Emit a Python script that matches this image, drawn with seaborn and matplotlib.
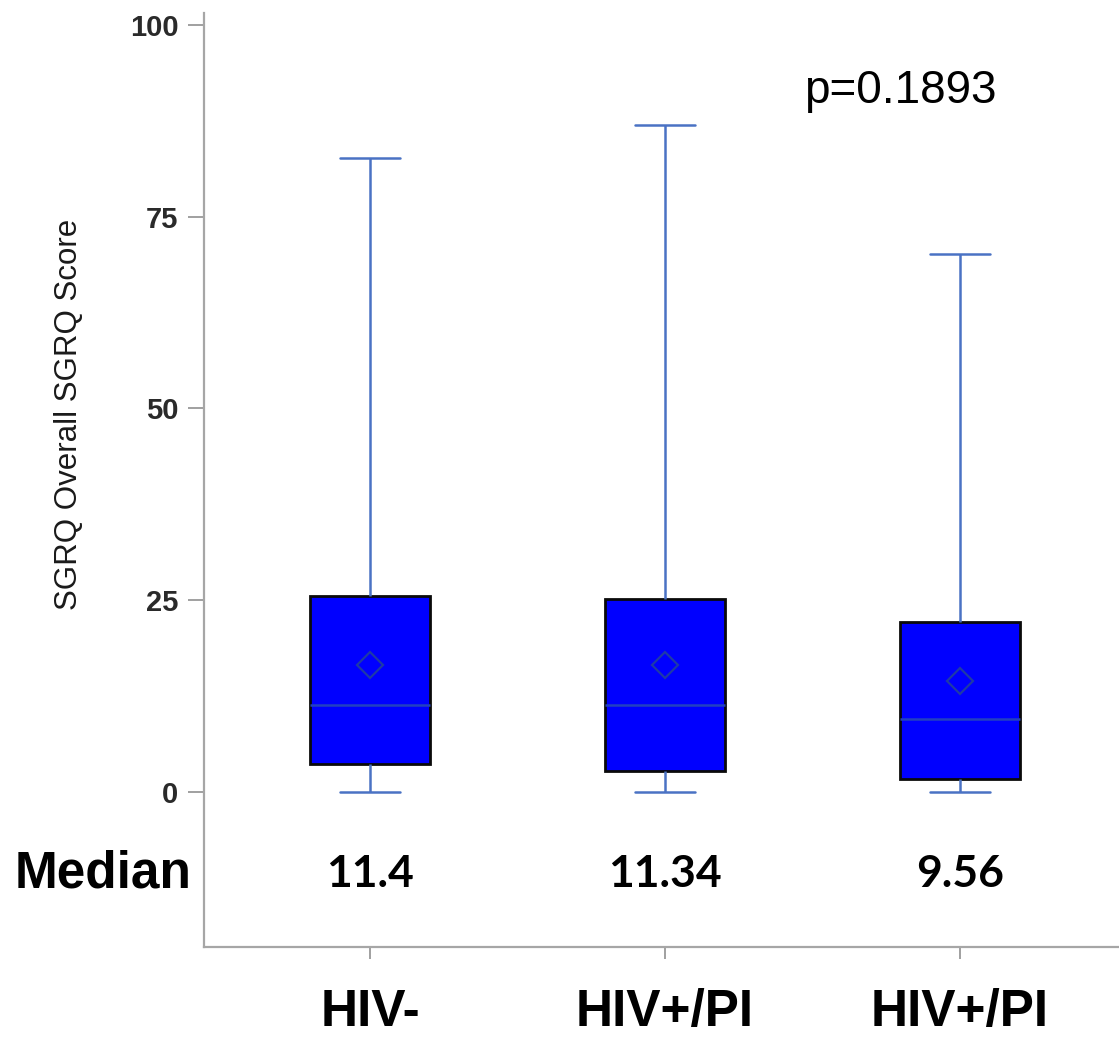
import numpy as np
import pandas as pd
import seaborn as sns
import matplotlib.pyplot as plt

# ---- data ----
group_ids = ["HIV-", "HIV+/PI (a)", "HIV+/PI (b)"]
group_labels = ["HIV-", "HIV+/PI", "HIV+/PI"]
mins = [0.0, 0.0, 0.0]
q1 = [3.6, 2.7, 1.7]
medians = [11.4, 11.34, 9.56]
q3 = [25.5, 25.2, 22.2]
maxs = [82.7, 87.0, 70.1]
means = [16.6, 16.6, 14.5]
median_text = ["11.4", "11.34", "9.56"]
p_text = "p=0.1893"
y_ticks = [0, 25, 50, 75, 100]

# five-number summaries as data (linear quantiles reproduce q1/median/q3 exactly)
rows = []
for g, a, b, c, d, e in zip(group_ids, mins, q1, medians, q3, maxs):
    for v in (a, b, c, d, e):
        rows.append((g, v))
df = pd.DataFrame(rows, columns=["group", "score"])
df_mean = pd.DataFrame({"group": group_ids, "mean": means})

sns.set_style("white")
plt.rcParams["font.family"] = ["Liberation Sans", "DejaVu Sans"]
plt.rcParams["text.color"] = "black"

fig = plt.figure(figsize=(11.19, 10.38), dpi=100)
ax = fig.add_axes([0.1823, 0.0881, 0.8177, 0.8994])

whisker_c = "#4A72C4"
sns.boxplot(data=df, x="group", y="score", order=group_ids, ax=ax,
            whis=np.inf, width=0.407, color="#0000FF", saturation=1,
            linecolor="black", linewidth=1.8, showfliers=False,
            boxprops=dict(facecolor="#0000FF", edgecolor="#0A0A0A", linewidth=2.0),
            whiskerprops=dict(color=whisker_c, linewidth=1.8),
            capprops=dict(color=whisker_c, linewidth=1.8),
            medianprops=dict(color="#2240C0", linewidth=1.8))

sns.pointplot(data=df_mean, x="group", y="mean", order=group_ids, ax=ax,
              linestyles="none", markers="D", errorbar=None, color="#1E3AA8",
              markersize=13.5, markerfacecolor="none", markeredgecolor="#1E3AA8",
              markeredgewidth=1.6)

ax.set_xlim(-0.563, 2.54)
ax.set_ylim(-20.14, 101.56)

for s in ("top", "right"):
    ax.spines[s].set_visible(False)
for s in ("left", "bottom"):
    ax.spines[s].set_color("#A6A6A6")
    ax.spines[s].set_linewidth(1.6)

ax.set_yticks(y_ticks)
ax.set_yticklabels([str(v) for v in y_ticks], fontsize=21, fontweight="bold", color="#2A2A2A")
ax.tick_params(axis="y", length=11.5, width=1.4, color="#A0A0A0", pad=7, left=True)

ax.set_xticks(range(len(group_ids)))
ax.set_xticklabels(group_labels, fontsize=37, fontweight="bold", color="black")
ax.tick_params(axis="x", length=8.6, width=1.4, color="#A0A0A0", pad=21, bottom=True)
ax.set_xlabel("")

ax.set_ylabel("SGRQ Overall SGRQ Score", fontsize=22.5, color="#1A1A1A")
ax.yaxis.set_label_coords(-0.131, 0.570)

# median row
for i, t in enumerate(median_text):
    ax.text(i, -12.4, t, ha="center", va="baseline", fontsize=32, color="black",
            family=["Lato", "DejaVu Sans"], fontweight="bold", clip_on=False)
fig.text(15 / 1119, 1 - 888 / 1038, "Median", ha="left", va="baseline",
         fontsize=37, fontweight="bold", color="black")

fig.text(900 / 1119, 1 - 103 / 1038, p_text, ha="center", va="baseline",
         fontsize=33, color="black")

fig.savefig("out.png", dpi=100, facecolor="white")
